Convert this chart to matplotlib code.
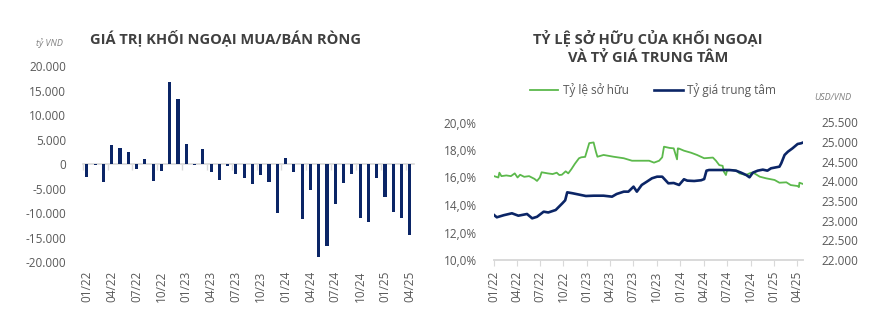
import numpy as np
import pandas as pd
import matplotlib
matplotlib.use("Agg")
import matplotlib.pyplot as plt
import matplotlib.dates as mdates
from matplotlib.ticker import FuncFormatter, FixedLocator

plt.rcParams['font.family'] = ['Open Sans', 'DejaVu Sans']

NAVY = '#0b2566'
GREEN = '#5cb94c'
GREY_TXT = '#595959'
TITLE_C = '#404040'
AXIS_C = '#d9d9d9'

# ---- left chart: monthly net buy/sell of foreign investors (ty VND)
months = pd.period_range('2022-01', '2025-04', freq='M')
month_labels = [p.strftime('%m/%y') for p in months]
net_flow = [-2600, -200, -3650, 3900, 3250, 2450, -1000, 1000, -3500, -1350,
            16800, 13300, 4150, -200, 3050, -1500, -3200, -300, -1950, -2900,
            -4000, -2300, -3600, -10000, 1300, -1500, -11200, -5300, -18900, -16700,
            -8200, -3750, -2100, -10900, -11850, -2800, -6700, -9750, -10900, -14400]

# ---- right chart: foreign ownership ratio (%) and central exchange rate
own_dates = ['2022-01-03', '2022-01-20', '2022-01-24', '2022-02-01', '2022-02-20',
             '2022-03-10', '2022-03-25', '2022-04-05', '2022-04-15', '2022-05-01',
             '2022-05-20', '2022-06-10', '2022-06-20', '2022-07-01', '2022-07-08',
             '2022-08-01', '2022-08-20', '2022-09-05', '2022-09-15', '2022-09-25',
             '2022-10-10', '2022-10-20', '2022-11-01', '2022-11-15', '2022-12-01',
             '2022-12-10', '2022-12-25', '2023-01-10', '2023-01-27', '2023-02-05',
             '2023-02-11', '2023-03-07', '2023-04-15', '2023-05-25', '2023-06-26',
             '2023-07-29', '2023-09-01', '2023-09-20', '2023-10-10', '2023-10-22',
             '2023-10-29', '2023-11-20', '2023-12-06', '2023-12-19', '2023-12-22',
             '2023-12-27', '2024-01-15', '2024-02-12', '2024-03-06', '2024-04-03',
             '2024-05-07', '2024-05-19', '2024-06-01', '2024-06-14', '2024-06-19',
             '2024-06-27', '2024-07-01', '2024-07-19', '2024-08-07', '2024-08-19',
             '2024-09-13', '2024-10-03', '2024-10-16', '2024-11-06', '2024-12-01',
             '2025-01-03', '2025-01-22', '2025-02-18', '2025-03-07', '2025-04-03',
             '2025-04-08', '2025-04-10', '2025-04-24']
own_ratio = [16.10, 16.00, 16.35, 16.10, 16.15,
             16.10, 16.30, 16.00, 16.20, 16.05,
             16.10, 15.90, 15.75, 16.00, 16.38,
             16.30, 16.25, 16.35, 16.18, 16.20,
             16.45, 16.30, 16.60, 17.00, 17.40,
             17.47, 17.50, 18.50, 18.55, 17.88,
             17.51, 17.64, 17.51, 17.40, 17.22,
             17.22, 17.22, 17.08, 17.22, 17.47,
             18.24, 18.15, 18.12, 17.32, 18.12,
             18.10, 17.95, 17.80, 17.64, 17.40,
             17.45, 17.22, 16.90, 16.85, 16.42,
             16.18, 16.50, 16.55, 16.50, 16.30,
             16.18, 16.35, 16.30, 16.06, 15.94,
             15.82, 15.62, 15.65, 15.45, 15.38,
             15.30, 15.62, 15.53]

fx_dates = ['2022-01-03', '2022-01-14', '2022-02-10', '2022-03-14', '2022-04-08',
            '2022-05-12', '2022-06-01', '2022-06-20', '2022-07-16', '2022-08-03',
            '2022-09-01', '2022-09-27', '2022-10-08', '2022-10-16', '2022-11-05',
            '2022-12-28', '2023-01-28', '2023-03-07', '2023-04-09', '2023-04-27',
            '2023-05-25', '2023-06-12', '2023-07-02', '2023-07-15', '2023-08-03',
            '2023-08-23', '2023-09-12', '2023-10-02', '2023-10-22', '2023-11-03',
            '2023-11-15', '2023-12-06', '2023-12-27', '2024-01-15', '2024-01-28',
            '2024-02-24', '2024-03-22', '2024-04-03', '2024-04-12', '2024-04-22',
            '2024-06-01', '2024-07-10', '2024-08-05', '2024-08-25', '2024-09-14',
            '2024-09-27', '2024-10-10', '2024-10-29', '2024-11-18', '2024-12-06',
            '2024-12-20', '2025-01-22', '2025-01-29', '2025-02-11', '2025-02-24',
            '2025-03-14', '2025-04-03', '2025-04-16', '2025-04-24']
fx_rate = [23146, 23087, 23140, 23189, 23128,
           23171, 23061, 23100, 23230, 23210,
           23273, 23443, 23520, 23723, 23700,
           23629, 23637, 23637, 23612, 23680,
           23740, 23740, 23867, 23740, 23910,
           23994, 24080, 24121, 24121, 24037,
           23952, 23960, 23910, 24055, 24020,
           24011, 24030, 24060, 24274, 24291,
           24291, 24291, 24274, 24223, 24164,
           24105, 24223, 24274, 24300, 24274,
           24334, 24376, 24461, 24673, 24757,
           24843, 24953, 24970, 24990]


def dot_thousands(v, pos=None):
    return f"{v:,.0f}".replace(',', '.')


fig = plt.figure(figsize=(8.81, 3.21), dpi=100)

# ================= left chart =================
ax = fig.add_axes([82.7 / 881, 1 - 262.3 / 321, 331.3 / 881, 196.3 / 321])
x = np.arange(len(net_flow))
ax.bar(x, net_flow, width=0.38, color=NAVY, zorder=3)
ax.set_xlim(-0.5, len(net_flow) - 0.5)
ax.set_ylim(-20000, 20000)
ax.set_yticks(np.arange(-20000, 20001, 5000))
ax.yaxis.set_major_formatter(FuncFormatter(dot_thousands))
for s in ['left', 'right', 'bottom']:
    ax.spines[s].set_visible(False)
ax.spines['top'].set_position(('data', 0))
ax.spines['top'].set_color(AXIS_C)
ax.spines['top'].set_linewidth(1.2)
ax.set_xticks(x[::3])
ax.set_xticklabels(month_labels[::3], rotation=90)
ax.xaxis.set_minor_locator(FixedLocator(np.arange(-0.5, len(net_flow), 3)))
ax.tick_params(axis='x', which='major', length=0, pad=6, labelsize=8.5, labelcolor=GREY_TXT)
ax.tick_params(axis='x', which='minor', bottom=False, top=True, direction='in',
               length=4, color=AXIS_C, width=1)
ax.tick_params(axis='y', length=0, pad=12, labelsize=8.5, labelcolor=GREY_TXT)

fig.text(225 / 881, 1 - 38 / 321, 'GIÁ TRỊ KHỐI NGOẠI MUA/BÁN RÒNG', ha='center', va='center',
         fontsize=10.5, fontweight='bold', color=TITLE_C)
fig.text(49 / 881, 1 - 43 / 321, 'tỷ VND', ha='center', va='center', fontsize=6.5,
         style='italic', color='#7f7f7f')

# ================= right chart =================
ax1 = fig.add_axes([493.5 / 881, 1 - 260 / 321, 309.5 / 881, 137.5 / 321])
ax2 = ax1.twinx()
od = pd.to_datetime(own_dates)
fd = pd.to_datetime(fx_dates)
l1, = ax1.plot(od, own_ratio, color=GREEN, lw=1.3, label='Tỷ lệ sở hữu', zorder=3)
l2, = ax2.plot(fd, fx_rate, color=NAVY, lw=1.9, label='Tỷ giá trung tâm', zorder=3)
ax1.set_xlim(pd.Timestamp('2022-01-01'), pd.Timestamp('2025-04-24'))
ax1.set_ylim(10, 20)
ax1.set_yticks(np.arange(10, 20.1, 2))
ax1.yaxis.set_major_formatter(FuncFormatter(lambda v, p: f"{v:.1f}%".replace('.', ',')))
ax2.set_ylim(22000, 25500)
ax2.set_yticks(np.arange(22000, 25501, 500))
ax2.yaxis.set_major_formatter(FuncFormatter(dot_thousands))
ax1.xaxis.set_major_locator(mdates.MonthLocator(bymonth=[1, 4, 7, 10]))
ax1.xaxis.set_major_formatter(mdates.DateFormatter('%m/%y'))
for a in (ax1, ax2):
    for s in ['left', 'right', 'top']:
        a.spines[s].set_visible(False)
    a.spines['bottom'].set_color(AXIS_C)
    a.spines['bottom'].set_linewidth(1.2)
ax1.tick_params(axis='x', length=4, color=AXIS_C, pad=4, labelsize=8.5,
                labelcolor=GREY_TXT, labelrotation=90)
ax1.tick_params(axis='y', length=0, pad=12, labelsize=8.5, labelcolor=GREY_TXT)
ax2.tick_params(axis='y', length=0, pad=13, labelsize=8.5, labelcolor=GREY_TXT)

fig.text(648 / 881, 1 - 47.5 / 321, 'TỶ LỆ SỞ HỮU CỦA KHỐI NGOẠI\nVÀ TỶ GIÁ TRUNG TÂM',
         ha='center', va='center', fontsize=10.5, fontweight='bold', color=TITLE_C,
         linespacing=1.45)
fig.text(833 / 881, 1 - 98 / 321, 'USD/VND', ha='center', va='center', fontsize=6.5,
         style='italic', color='#7f7f7f')
fig.legend(handles=[l1, l2], loc='center', bbox_to_anchor=(653 / 881, 1 - 90 / 321),
           ncol=2, frameon=False, fontsize=8.5, handlelength=2.4, handletextpad=0.4,
           columnspacing=2.2, labelcolor=GREY_TXT)

fig.savefig('out.png', dpi=100, facecolor='white')
